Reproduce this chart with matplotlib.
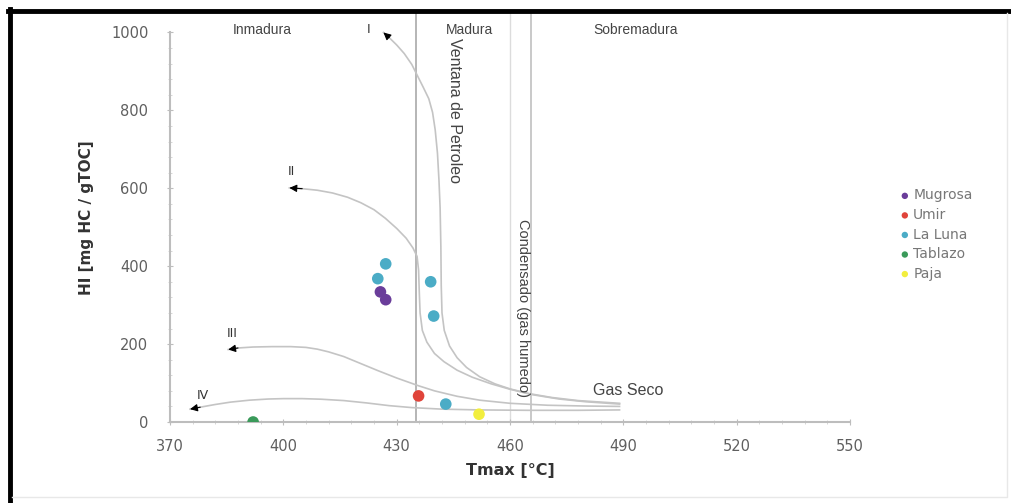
import matplotlib
matplotlib.use('Agg')
import matplotlib.pyplot as plt
from matplotlib.lines import Line2D

# sample points (Tmax, HI) per formation
formations = ['Mugrosa', 'Umir', 'La Luna', 'Tablazo', 'Paja']
colors = ['#6a3d9a', '#e0443a', '#4bacc6', '#3a9a5a', '#f2ee3e']
tmax = {
    'Mugrosa': [425.7, 427.1],
    'Umir': [435.8],
    'La Luna': [427.1, 425.0, 439.0, 439.8, 443.0],
    'Tablazo': [392.0],
    'Paja': [451.8],
}
hi = {
    'Mugrosa': [334, 314],
    'Umir': [67],
    'La Luna': [406, 368, 360, 272, 46],
    'Tablazo': [0],
    'Paja': [20],
}

# kerogen type evolution paths (arrow tip first)
type_I_T = [426.5, 428, 430, 432, 434, 435.6, 437, 438.5, 439.5, 440.2, 440.8, 441.2, 441.5,
            441.7, 441.8, 442, 442.6, 444, 446, 448.5, 452, 456, 460, 465, 471, 478, 489]
type_I_H = [1000, 987, 968, 946, 918, 887, 860, 830, 795, 750, 690, 620, 550,
            450, 350, 280, 235, 195, 165, 140, 116, 98, 85, 73, 63, 55, 48]
type_II_T = [401.6, 405, 409, 413, 417, 420.5, 424, 427, 430, 432.5, 434.3, 435.4, 435.8, 436,
             436.2, 436.8, 438, 440, 442.5, 446, 450, 455, 460, 466, 473, 480, 489]
type_II_H = [601, 599, 595, 588, 577, 563, 545, 523, 497, 472, 447, 425, 390, 330,
             280, 235, 205, 176, 155, 133, 115, 98, 84, 70, 59, 52, 46]
type_III_T = [385.4, 388, 392, 397, 402, 406, 409, 412, 416, 420, 425, 430, 435.8, 440,
              446, 452, 460, 470, 480, 489]
type_III_H = [186, 190, 192.5, 193.5, 193.5, 191.5, 187, 180, 168, 152, 132, 113, 93, 80,
              66, 56, 48, 43, 41, 40]
type_IV_T = [375.3, 378, 382, 386, 391, 396, 400, 405, 410, 416, 422, 428, 434, 442,
             452, 465, 478, 489]
type_IV_H = [33, 38, 45, 51, 56, 59, 60, 60, 58.5, 55, 49, 42, 37, 33,
             31, 30, 30, 31]
curve_labels = ['I', 'II', 'III', 'IV']

W, H = 1012, 503
fig = plt.figure(figsize=(W / 100, H / 100), dpi=100)
ax = fig.add_axes([170 / W, 1 - 422 / H, 680 / W, 409 / H])

ax.set_xlim(370, 550)
ax.set_ylim(0, 1050)

grey = '#bdbdbd'
for s in ['top', 'right']:
    ax.spines[s].set_visible(False)
ax.spines['left'].set_bounds(0, 1000)
ax.spines['left'].set_color(grey)
ax.spines['bottom'].set_color(grey)
ax.spines['left'].set_linewidth(1.5)
ax.spines['bottom'].set_linewidth(1.5)

ax.set_xticks(range(370, 551, 30))
ax.set_yticks(range(0, 1001, 200))
ax.set_xticks(range(370, 551, 6), minor=True)
ax.set_yticks(range(0, 1001, 40), minor=True)
ax.tick_params(which='major', direction='inout', length=5, color=grey,
               labelcolor='#5f5f5f', labelsize=10.5)
ax.tick_params(which='minor', direction='inout', length=3, color='#d0d0d0')
ax.tick_params(axis='y', pad=13)
ax.tick_params(axis='x', pad=10)

ax.set_xlabel('Tmax [°C]', fontsize=11.5, fontweight='bold', color='#333333', labelpad=6)
ax.set_ylabel('HI [mg HC / gTOC]', fontsize=11, fontweight='bold', color='#333333', labelpad=12)

# maturity limits
ax.axvline(435, color='#b0b0b0', lw=1.3, zorder=1)
ax.axvline(460, color='#dcdcdc', lw=1.0, zorder=1)
ax.axvline(465.5, color='#c0c0c0', lw=1.2, zorder=1)

curves = [(type_I_T, type_I_H), (type_II_T, type_II_H),
          (type_III_T, type_III_H), (type_IV_T, type_IV_H)]
label_off = [(-4, 8), (0.5, 42), (1, 40), (3.5, 36)]
for (ct, ch), lab, (dx, dy) in zip(curves, curve_labels, label_off):
    ax.plot(ct, ch, color='#c4c4c4', lw=1.2, zorder=2)
    ax.annotate('', xy=(ct[0], ch[0]), xytext=(ct[1], ch[1]),
                arrowprops=dict(arrowstyle='-|>', color='black', lw=0.8,
                                mutation_scale=11, shrinkA=0, shrinkB=0))
    ax.text(ct[0] + dx, ch[0] + dy, lab, fontsize=9, color='#333333',
            ha='center', va='center')

txt = dict(fontsize=10, color='#444444', family='Liberation Sans')
ax.text(394.5, 1007, 'Inmadura', ha='center', va='center', **txt)
ax.text(443, 1007, 'Madura', ha='left', va='center', **txt)
ax.text(482, 1007, 'Sobremadura', ha='left', va='center', **txt)
ax.text(445.3, 985, 'Ventana de Petroleo', rotation=-90, ha='center', va='top',
        fontsize=11.5, color='#444444', family='Liberation Sans')
ax.text(463.5, 520, 'Condensado (gas humedo)', rotation=-90, ha='center', va='top',
        fontsize=10.5, color='#444444', family='Liberation Sans')
ax.text(482, 82, 'Gas Seco', ha='left', va='center', fontsize=11.5, color='#444444',
        family='Liberation Sans')

for name, c in zip(formations, colors):
    ax.scatter(tmax[name], hi[name], s=70, color=c, edgecolors='none', zorder=4,
               label=name)

leg = ax.legend(loc='upper left', bbox_to_anchor=(884 / W, 1 - 176 / H),
                bbox_transform=fig.transFigure, frameon=False, fontsize=10,
                handletextpad=0.0, labelspacing=0.4, markerscale=0.55,
                handlelength=1.2)
for t in leg.get_texts():
    t.set_color('#777777')

# black frame of the original image
fig.add_artist(Line2D([8 / W, 1.0], [1 - 11 / H, 1 - 11 / H], color='black', lw=3.5,
                      transform=fig.transFigure))
fig.add_artist(Line2D([10 / W, 10 / W], [0, 1 - 9 / H], color='black', lw=3.5,
                      transform=fig.transFigure))
fig.add_artist(Line2D([12 / W, 1007 / W, 1007 / W], [6 / H, 6 / H, 1 - 13 / H],
                      color='#e8e8e8', lw=1, transform=fig.transFigure))

fig.savefig('out.png', dpi=100)
